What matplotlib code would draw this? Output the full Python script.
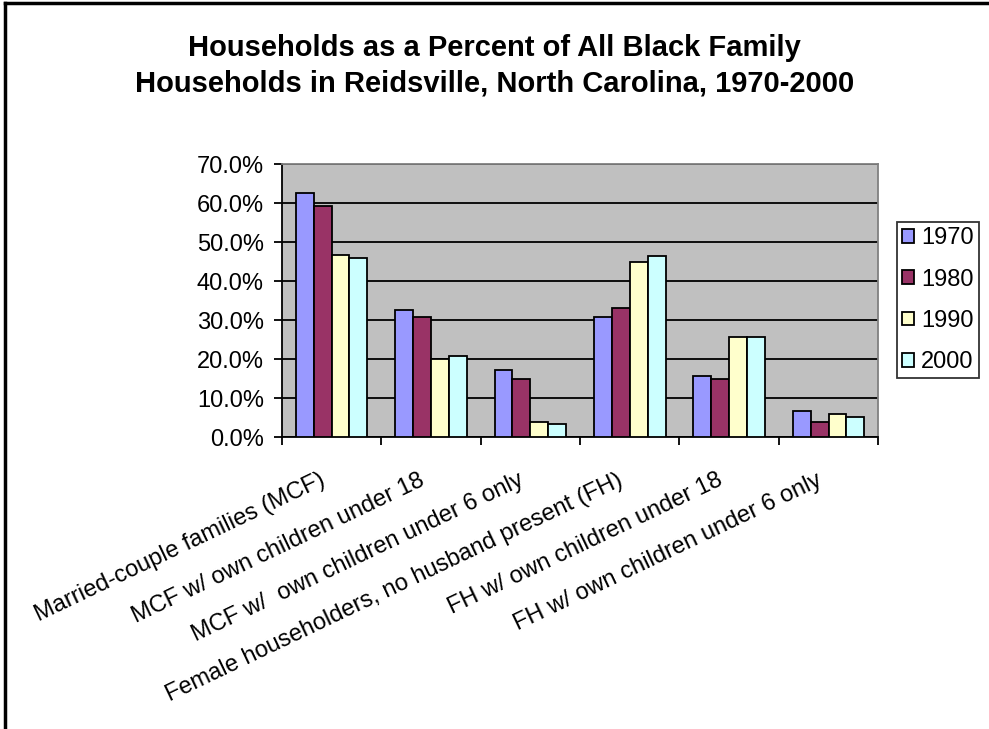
import matplotlib.pyplot as plt
import numpy as np
from matplotlib.lines import Line2D
from matplotlib.transforms import ScaledTranslation

# Household categories and shares (percent) per census year
categories = [
    'Married-couple families (MCF)',
    'MCF w/ own children under 18',
    'MCF w/  own children under 6 only',
    'Female householders, no husband present (FH)',
    'FH w/ own children under 18',
    'FH w/ own children under 6 only',
]
years = ['1970', '1980', '1990', '2000']
pct_1970 = [62.5, 32.7, 17.2, 30.9, 15.7, 6.8]
pct_1980 = [59.2, 30.9, 14.9, 33.2, 14.9, 4.0]
pct_1990 = [46.8, 20.0, 4.0, 44.9, 25.6, 5.9]
pct_2000 = [46.0, 20.9, 3.5, 46.5, 25.6, 5.1]
colors = ['#9999FF', '#993366', '#FFFFCC', '#CCFFFF']

plt.rcParams['font.family'] = ['Liberation Sans', 'DejaVu Sans']

fig = plt.figure(figsize=(9.89, 7.29), dpi=100)
ax = fig.add_axes([0.285, 0.400, 0.603, 0.375])

x = np.arange(len(categories))
w = 0.18
series = [pct_1970, pct_1980, pct_1990, pct_2000]
for i, (vals, yr, c) in enumerate(zip(series, years, colors)):
    ax.bar(x + (i - 1.5) * w, vals, width=w, color=c, edgecolor='black',
           linewidth=1.3, label=yr, zorder=3)

ax.set_facecolor('#C0C0C0')
ax.set_xlim(-0.5, len(categories) - 0.5)
ax.set_ylim(0, 70)
ax.set_yticks(np.arange(0, 71, 10))
ax.set_yticklabels([f'{v:.1f}%' for v in np.arange(0, 71, 10)], fontsize=17)
ax.yaxis.grid(True, color='black', linewidth=1.3, zorder=0)
ax.tick_params(axis='y', direction='out', length=6, width=1.3, pad=7)

# category ticks sit between groups
ax.set_xticks(np.arange(-0.5, len(categories)), minor=False)
ax.set_xticklabels([])
ax.tick_params(axis='x', direction='out', length=6, width=1.3)
ax.set_xticks(x, minor=True)
ax.set_xticklabels(categories, minor=True, rotation=25.5, ha='right',
                   va='center', rotation_mode='anchor', fontsize=17)
ax.tick_params(axis='x', which='minor', length=0, pad=30)
shift = ScaledTranslation(-8 / 100, 0, fig.dpi_scale_trans)
for lbl in ax.get_xticklabels(minor=True):
    lbl.set_transform(lbl.get_transform() + shift)

for side in ['top', 'right']:
    ax.spines[side].set_color('#808080')
    ax.spines[side].set_linewidth(1.3)
for side in ['left', 'bottom']:
    ax.spines[side].set_color('black')
    ax.spines[side].set_linewidth(1.3)

leg = fig.legend(loc='upper left', bbox_to_anchor=(897 / 989, 1 - 222 / 729),
                 fontsize=17, frameon=True, fancybox=False, edgecolor='black',
                 handlelength=0.5, handleheight=0.5, handletextpad=0.3,
                 labelspacing=0.82, borderpad=0.22, borderaxespad=0)
leg.get_frame().set_linewidth(1.3)

fig.text(0.5, 1 - 66 / 729,
         'Households as a Percent of All Black Family\nHouseholds in Reidsville, North Carolina, 1970-2000',
         ha='center', va='center', fontsize=21, fontweight='bold', linespacing=1.32)

# outer chart frame
fig.add_artist(Line2D([5 / 989, 1], [1 - 3 / 729, 1 - 3 / 729], color='black', linewidth=2.5))
fig.add_artist(Line2D([5 / 989, 5 / 989], [0, 1 - 3 / 729], color='black', linewidth=2.5))

fig.savefig('out.png', dpi=100)
